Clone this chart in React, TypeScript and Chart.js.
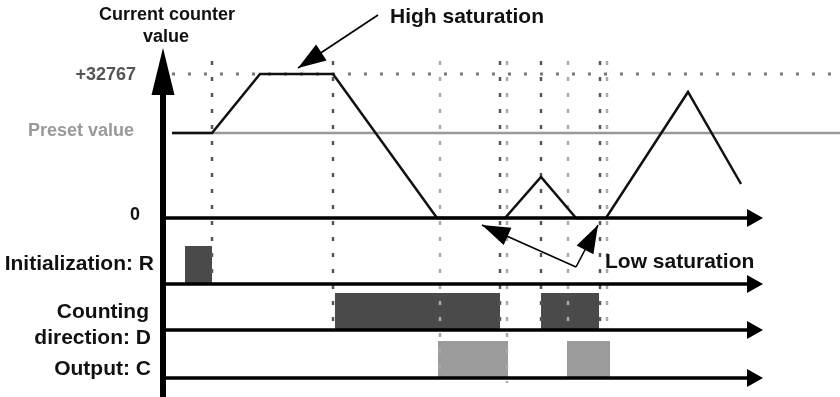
import React, { useEffect, useRef } from "react";
import { Chart, registerables } from "chart.js";
Chart.register(...registerables);

// Diagram time units (x) and diagram level units (y, 0 = counter zero)
const counterTimes = [172, 212, 260, 333, 437, 505, 541, 576, 606, 688, 741];
const counterLevels = [85, 85, 144, 144, 0, 0, 41, 0, 0, 126, 34];
const presetLevel = 85;
const maxLevel = 144; // +32767
const refLineStart = 172;
const refLineEnd = 840;

const markerTimes = [212, 333, 440, 500, 507, 541, 568, 600, 607];
const markerEnds = [-67, -112, -162, -112, -165, -112, -115, -112, -114];
const markerDark = [true, true, false, true, false, true, false, true, false];
const markerTop = 157;

const trackBase = [0, -66, -112, -160];
const pulsesR = [[185, 212]];
const pulsesD = [[335, 500], [541, 599]];
const pulsesC = [[438, 508], [567, 610]];
const pulseHighR = -28;
const pulseHighD = -75;
const pulseHighC = -123;

const axisStart = 162;
const axisEnd = 763;
const levelMin = -179;
const levelMax = 218;
const timeMin = 0;
const timeMax = 840;

type Txt = { text: string; t: number; l: number; size: number; align: CanvasTextAlign; color: string };
const texts: Txt[] = [
  { text: "Current counter", t: 167, l: 203, size: 18, align: "center", color: "#111" },
  { text: "value", t: 166, l: 181, size: 18, align: "center", color: "#111" },
  { text: "High saturation", t: 390, l: 201, size: 21, align: "left", color: "#111" },
  { text: "+32767", t: 136, l: 143, size: 18, align: "right", color: "#555" },
  { text: "Preset value", t: 134, l: 87, size: 18, align: "right", color: "#999" },
  { text: "0", t: 135, l: 3, size: 18, align: "center", color: "#111" },
  { text: "Initialization: R", t: 154, l: -46, size: 21, align: "right", color: "#111" },
  { text: "Counting", t: 149, l: -94, size: 21, align: "right", color: "#111" },
  { text: "direction: D", t: 151, l: -120, size: 21, align: "right", color: "#111" },
  { text: "Output: C", t: 151, l: -151, size: 21, align: "right", color: "#111" },
  { text: "Low saturation", t: 605, l: -44, size: 21, align: "left", color: "#111" },
];

// annotation arrows: [fromT, fromL, tipT, tipL]
const noteArrows = [
  [378, 203, 298, 150],
  [576, -49, 482, -7],
  [576, -49, 598, -7],
];

function head(ctx: CanvasRenderingContext2D, fx: number, fy: number, tx: number, ty: number, len: number, hw: number) {
  const a = Math.atan2(ty - fy, tx - fx);
  const bx = tx - len * Math.cos(a);
  const by = ty - len * Math.sin(a);
  const nx = -Math.sin(a) * hw;
  const ny = Math.cos(a) * hw;
  ctx.beginPath();
  ctx.moveTo(tx, ty);
  ctx.lineTo(bx + nx, by + ny);
  ctx.lineTo(bx - nx, by - ny);
  ctx.closePath();
  ctx.fill();
}

const diagramPlugin = {
  id: "diagram",
  beforeDatasetsDraw(chart: any) {
    const { ctx, scales } = chart;
    const X = (v: number) => scales.x.getPixelForValue(v);
    const Y = (v: number) => scales.y.getPixelForValue(v);
    ctx.save();
    const rect = (p: number[], lo: number, hi: number, color: string) => {
      ctx.fillStyle = color;
      ctx.fillRect(X(p[0]), Y(hi), X(p[1]) - X(p[0]), Y(lo) - Y(hi));
    };
    pulsesR.forEach((p) => rect(p, trackBase[1], pulseHighR, "#4a4a4a"));
    pulsesD.forEach((p) => rect(p, trackBase[2], pulseHighD, "#4a4a4a"));
    pulsesC.forEach((p) => rect(p, trackBase[3], pulseHighC, "#9b9b9b"));
    ctx.restore();
  },
  afterDatasetsDraw(chart: any) {
    const { ctx, scales } = chart;
    const X = (v: number) => scales.x.getPixelForValue(v);
    const Y = (v: number) => scales.y.getPixelForValue(v);
    ctx.save();
    ctx.fillStyle = "#000";
    ctx.strokeStyle = "#000";
    // horizontal axes
    trackBase.forEach((b) => {
      ctx.lineWidth = 3.5;
      ctx.beginPath();
      ctx.moveTo(X(axisStart), Y(b));
      ctx.lineTo(X(axisEnd) - 14, Y(b));
      ctx.stroke();
      head(ctx, X(axisStart), Y(b), X(axisEnd), Y(b), 16, 9);
    });
    // vertical axis
    const vx = X(axisStart) + 1;
    ctx.fillRect(vx - 3, Y(170) + 40, 6, Y(levelMin) - Y(170) - 40);
    head(ctx, vx, Y(levelMin), vx, Y(170), 47, 11.5);
    // annotation arrows
    noteArrows.forEach((a) => {
      ctx.lineWidth = 1.6;
      ctx.beginPath();
      ctx.moveTo(X(a[0]), Y(a[1]));
      ctx.lineTo(X(a[2]), Y(a[3]));
      ctx.stroke();
      head(ctx, X(a[0]), Y(a[1]), X(a[2]), Y(a[3]), 28, 9.5);
    });
    // texts
    ctx.textBaseline = "middle";
    texts.forEach((t) => {
      ctx.font = `bold ${t.size}px "Liberation Sans", Arial, sans-serif`;
      ctx.fillStyle = t.color;
      ctx.textAlign = t.align;
      ctx.fillText(t.text, X(t.t), Y(t.l));
    });
    ctx.restore();
  },
};

export default function App() {
  const ref = useRef<HTMLCanvasElement | null>(null);
  useEffect(() => {
    if (!ref.current) return;
    const markerSets = markerTimes.map((t, i) => ({
      type: "line" as const,
      data: [
        { x: t, y: markerTop },
        { x: t, y: markerEnds[i] },
      ],
      borderColor: markerDark[i] ? "#555" : "#aaa",
      borderWidth: 2.5,
      borderDash: [4, 12],
      pointRadius: 0,
      order: 10,
    }));
    const chart = new Chart(ref.current, {
      type: "line",
      data: {
        datasets: [
          {
            label: "Counter",
            data: counterTimes.map((t, i) => ({ x: t, y: counterLevels[i] })),
            borderColor: "#111",
            borderWidth: 2.5,
            pointRadius: 0,
            tension: 0,
            order: 1,
          },
          {
            label: "Preset",
            data: [
              { x: refLineStart, y: presetLevel },
              { x: refLineEnd, y: presetLevel },
            ],
            borderColor: "#999",
            borderWidth: 2.5,
            pointRadius: 0,
            order: 5,
          },
          {
            label: "Max",
            data: [
              { x: refLineStart, y: maxLevel },
              { x: refLineEnd, y: maxLevel },
            ],
            borderColor: "#777",
            borderWidth: 3,
            borderDash: [3, 13],
            pointRadius: 0,
            order: 6,
          },
          ...markerSets,
        ],
      },
      options: {
        animation: false,
        responsive: false,
        devicePixelRatio: 1,
        layout: { padding: 0 },
        plugins: { legend: { display: false }, tooltip: { enabled: false }, title: { display: false } },
        scales: {
          x: { type: "linear", min: timeMin, max: timeMax, display: false },
          y: { type: "linear", min: levelMin, max: levelMax, display: false },
        },
      },
      plugins: [diagramPlugin],
    });
    return () => chart.destroy();
  }, []);
  return (
    <div style={{ position: "fixed", left: 0, top: 0, width: 840, height: 397, background: "#fff" }}>
      <canvas ref={ref} width={840} height={397} />
    </div>
  );
}
